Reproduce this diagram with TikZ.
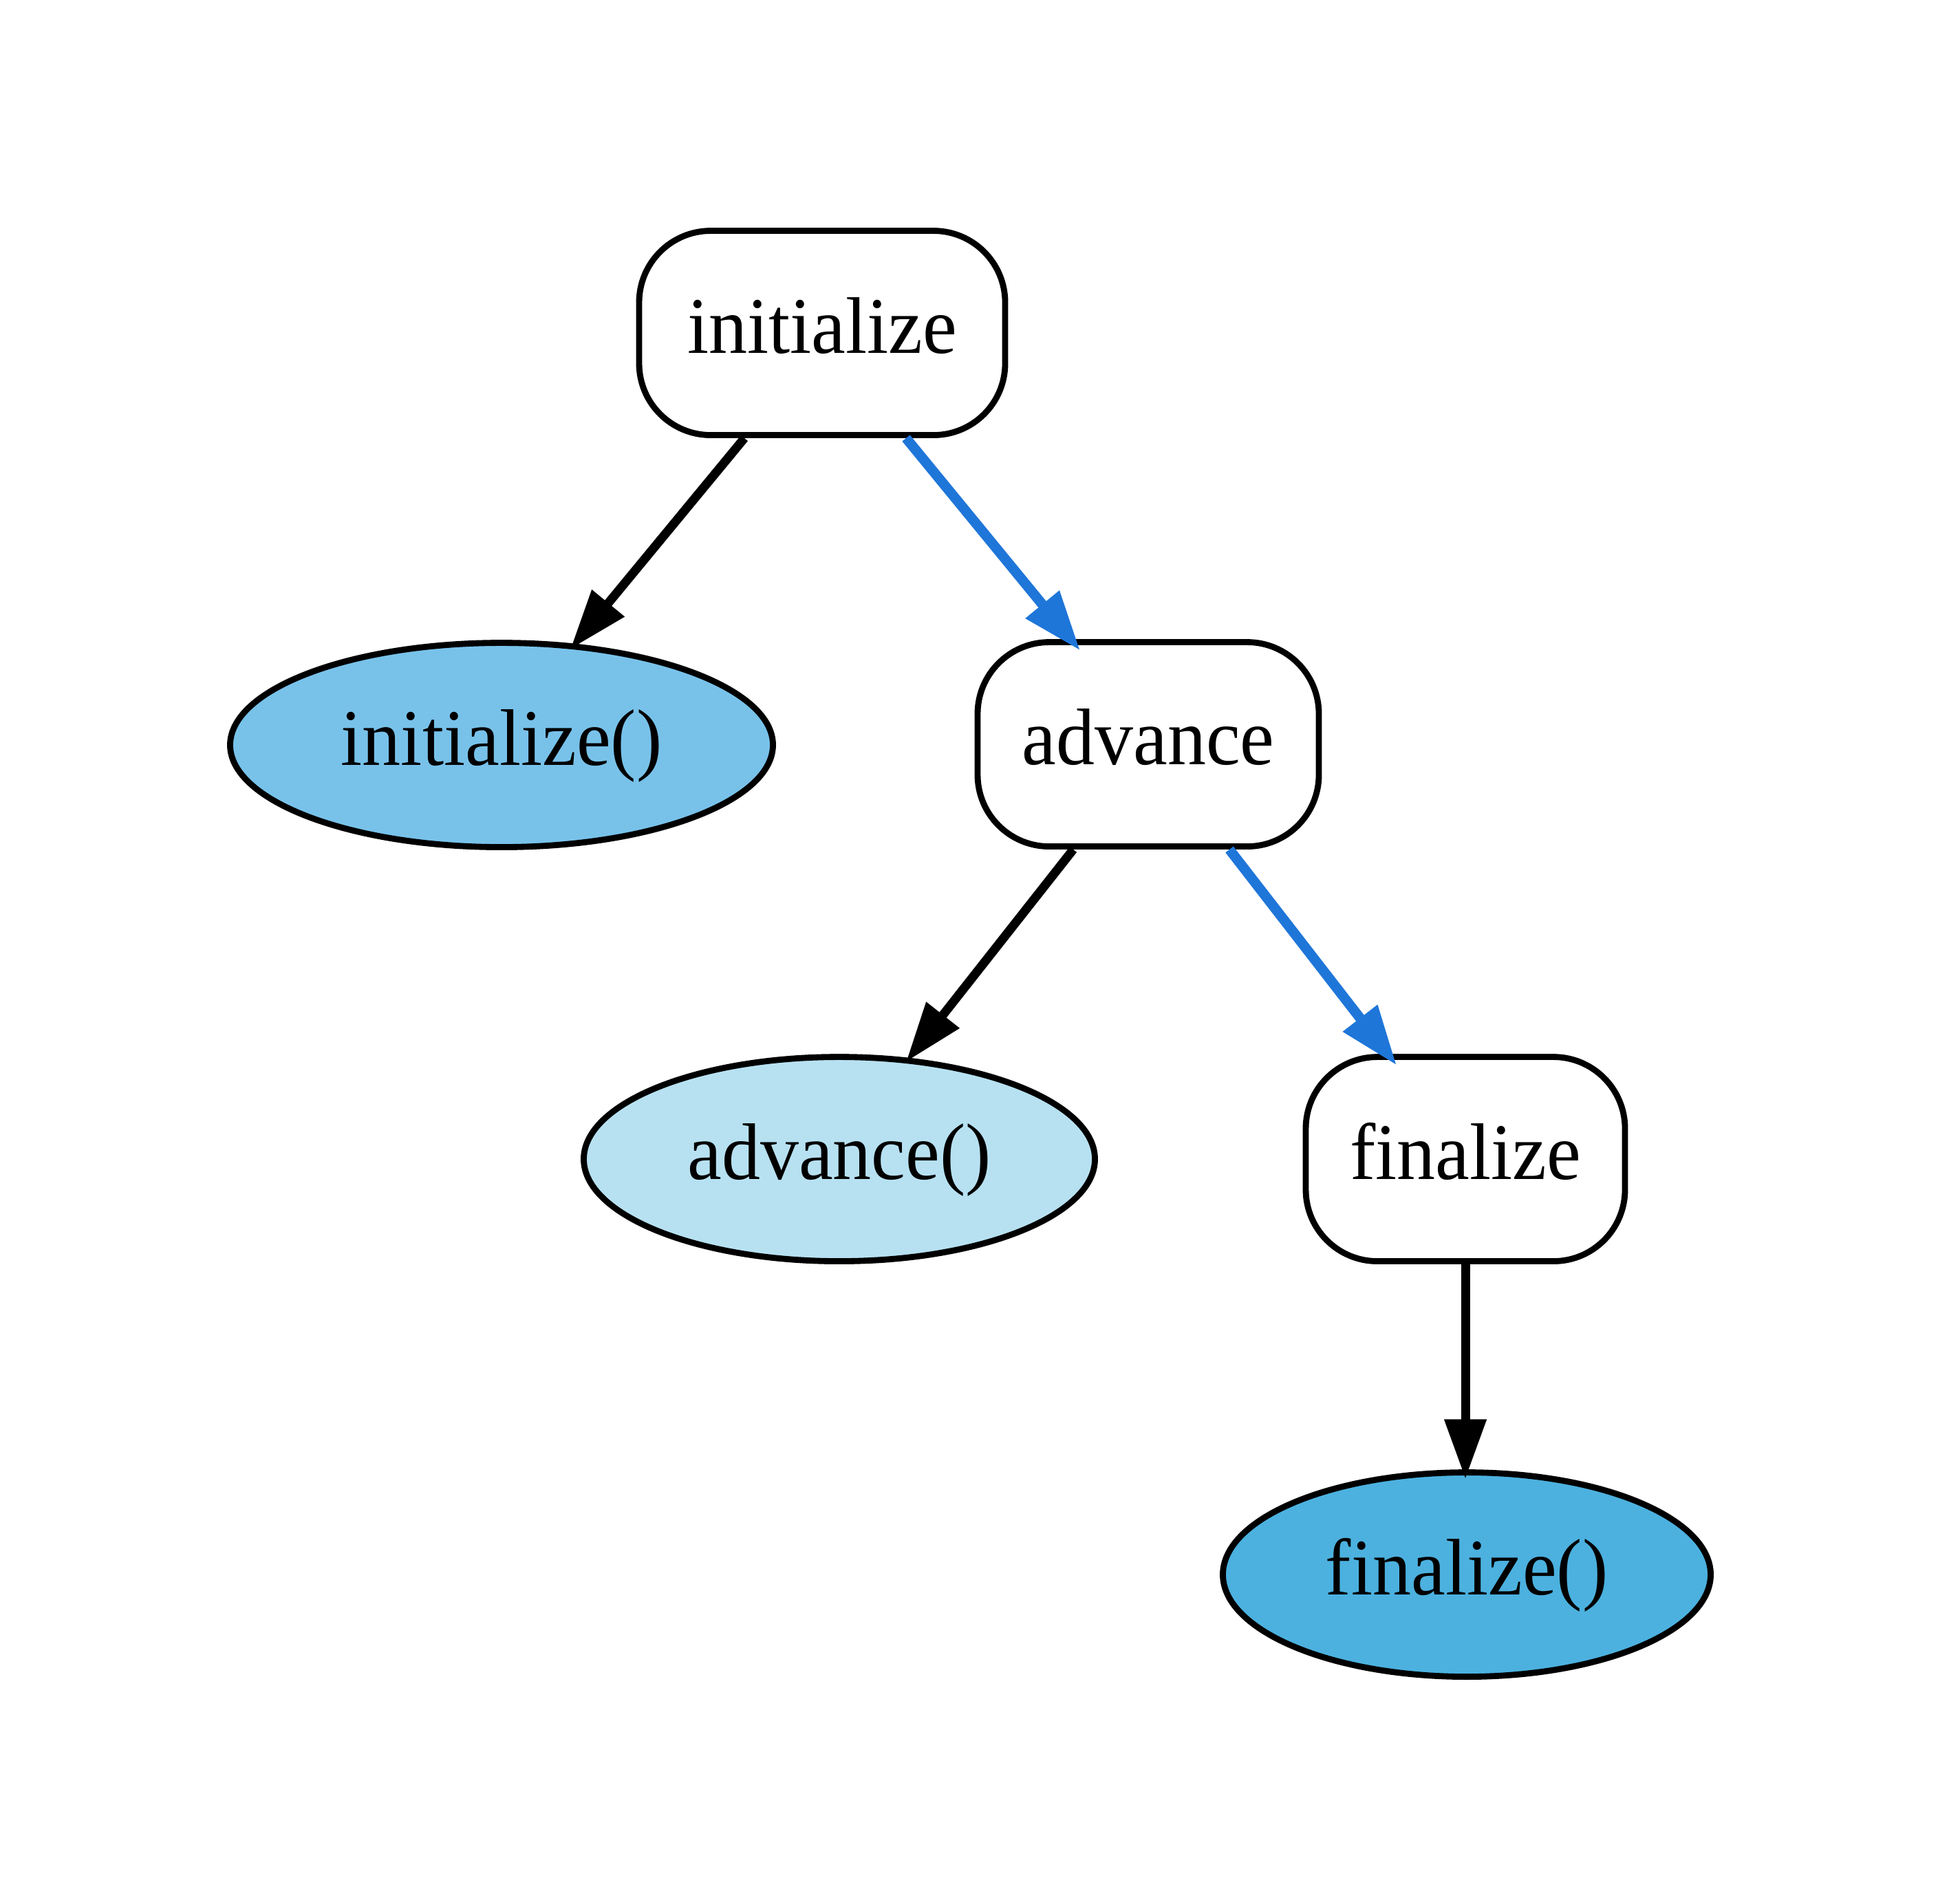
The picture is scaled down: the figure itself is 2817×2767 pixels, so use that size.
\documentclass[tikz,border=0pt]{standalone}
\usepackage{fontspec}
\setmainfont{Liberation Serif}[FakeStretch=0.96]
\usetikzlibrary{arrows.meta,shapes.geometric,calc}
\definecolor{initfill}{HTML}{78C2EA}
\definecolor{advfill}{HTML}{B7E1F1}
\definecolor{finfill}{HTML}{4CB1DF}
\definecolor{edgeblue}{HTML}{1F76D9}
\begin{document}
\begin{tikzpicture}[x=0.12pt,y=-0.12pt,
  lbl/.style={font=\fontsize{14pt}{16pt}\selectfont, text height=10pt, text depth=3pt, inner sep=0pt, line width=1.06pt, draw=black},
  funcbox/.style={lbl, rectangle, rounded corners=12.5pt, minimum height=35.64pt, fill=white},
  callnode/.style={lbl, ellipse, minimum height=35.64pt},
  edgeline/.style={line width=1.55pt, draw=black, -{Triangle[length=10.4pt,width=7pt]}},
  flowline/.style={edgeline, line width=1.75pt, draw=edgeblue, -{Triangle[length=10.4pt,width=7.2pt,fill=edgeblue]}}]
\useasboundingbox (0,0) rectangle (2817,2767);
\node[funcbox, minimum width=63.84pt] (init) at (1195,484) {initialize};
\node[callnode, fill=initfill, minimum width=94.68pt] (initf) at (729,1083) {initialize()};
\node[funcbox, minimum width=59.52pt] (adv) at (1669,1082) {advance};
\node[callnode, fill=advfill, minimum width=89.16pt] (advf) at (1220,1685) {advance()};
\node[funcbox, minimum width=55.68pt] (fin) at (2130,1685) {finalize};
\node[callnode, fill=finfill, minimum width=85.08pt] (finf) at (2132,2289) {finalize()};
\draw[edgeline] ($(init.south)+(-113,0)$) -- ($(initf.north)+(100,13.5)$);
\draw[flowline] ($(init.south)+(122,0)$) -- ($(adv.north)+(-99,16.5)$);
\draw[edgeline] ($(adv.south)+(-109,0)$) -- ($(advf.north)+(97,11.5)$);
\draw[flowline] ($(adv.south)+(118,0)$) -- ($(fin.north)+(-100,16.5)$);
\draw[edgeline] (fin.south) -- ($(fin.south |- finf.north)+(0,14)$);
\end{tikzpicture}
\end{document}
